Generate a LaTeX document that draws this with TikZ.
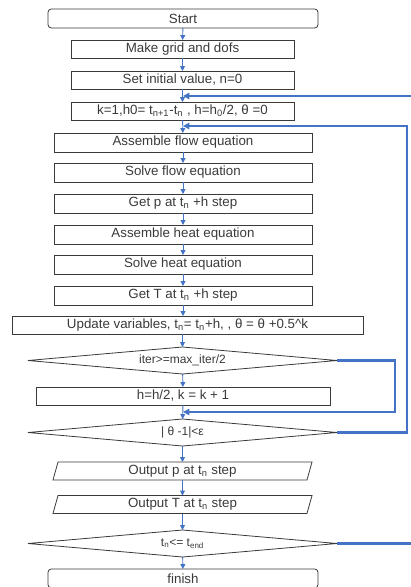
\documentclass[tikz,border=0pt]{standalone}
\usepackage{fontspec}
\setmainfont{Liberation Sans}
\usetikzlibrary{shapes.geometric,arrows.meta}
\definecolor{flowblue}{HTML}{4472C4}
\definecolor{edgegray}{HTML}{3A3A3A}
\begin{document}
\begin{tikzpicture}[x=0.75pt, y=-0.75pt,
  font=\fontsize{10}{12}\selectfont, text=edgegray,
  every node/.style={inner sep=0pt, outer sep=0pt},
  procbox/.style={draw=edgegray, line width=0.6pt, minimum height=13.5pt},
  termbox/.style={procbox, rounded corners=2.5pt, minimum width=202.5pt, minimum height=14.25pt},
  decision/.style={draw=edgegray, line width=0.6pt, shape=diamond, aspect=11.44,
    minimum width=231.75pt, minimum height=20.25pt, font=\fontsize{9}{11}\selectfont},
  iobox/.style={minimum width=190.5pt, minimum height=13.5pt},
  conn/.style={draw=flowblue, line width=0.7pt, -{Triangle[length=3.6pt,width=3.6pt]}},
  backloop/.style={draw=flowblue, line width=1.6pt, -{Triangle[length=4.8pt,width=4.8pt]}}]
\useasboundingbox (0,0) rectangle (411,587);

% main column of steps
\node[termbox] (start) at (183,18.5) {Start};
\node[procbox, minimum width=167.25pt] (grid) at (182.5,49) {Make grid and dofs};
\node[procbox, minimum width=167.25pt] (init) at (182.5,80) {Set initial value, n=0};
\node[procbox, minimum width=167.25pt] (kinit) at (182.5,111)
  {k=1,h0= t\textsubscript{n+1}-t\textsubscript{n} , h=h\textsubscript{0}/2, θ =0};
\node[procbox, minimum width=193.5pt, minimum height=14.25pt] (asmf) at (183,142.5) {Assemble flow equation};
\node[procbox, minimum width=193.5pt, minimum height=14.25pt] (solf) at (183,172.5) {Solve flow equation};
\node[procbox, minimum width=193.5pt, minimum height=14.25pt] (getp) at (183,203.5) {Get p at t\textsubscript{n} +h step};
\node[procbox, minimum width=193.5pt, minimum height=14.25pt] (asmh) at (183,234.5) {Assemble heat equation};
\node[procbox, minimum width=193.5pt, minimum height=14.25pt] (solh) at (183,264.5) {Solve heat equation};
\node[procbox, minimum width=193.5pt, minimum height=14.25pt] (getT) at (183,295.5) {Get T at t\textsubscript{n} +h step};
\node[procbox, minimum width=263.25pt] (upd) at (187.5,325)
  {Update variables, t\textsubscript{n}= t\textsubscript{n}+h, , θ = θ +0.5\textasciicircum k};
\node[decision] (iterchk) at (182.5,360.5) {iter>=max\_iter/2};
\node[procbox, minimum width=220.5pt] (half) at (183,396) {h=h/2, k = k + 1};
\node[decision] (thchk) at (182.5,432.5) {| θ -1|<ε};
\node[iobox] (outp) at (182.5,471) {Output p at t\textsubscript{n} step};
\node[iobox] (outT) at (182.5,504.5) {Output T at t\textsubscript{n} step};
\node[decision] (endchk) at (182.5,543.5) {t\textsubscript{n}<= t\textsubscript{end}};
\node[termbox] (fin) at (183,578.5) {finish};

% output steps drawn as parallelograms
\foreach \n in {outp,outT}{
  \draw[draw=edgegray, line width=0.6pt]
    ([xshift=1.9pt]\n.north west) -- ([xshift=1.9pt]\n.north east)
    -- ([xshift=-1.9pt]\n.south east) -- ([xshift=-1.9pt]\n.south west) -- cycle;
}

% forward connectors
\draw[conn] (start) -- (grid);
\draw[conn] (grid) -- (init);
\draw[conn] (init) -- (kinit);
\draw[conn] (kinit) -- (asmf);
\draw[conn] (asmf) -- (solf);
\draw[conn] (solf) -- (getp);
\draw[conn] (getp) -- (asmh);
\draw[conn] (asmh) -- (solh);
\draw[conn] (solh) -- (getT);
\draw[conn] (getT.south) -- (getT.south |- upd.north);
\draw[conn] (upd.south -| iterchk.north) -- (iterchk.north);
\draw[conn] (iterchk) -- (half);
\draw[conn] (half) -- (thchk);
\draw[conn] (thchk) -- (outp);
\draw[conn] (outp) -- (outT);
\draw[conn] (outT) -- (endchk);
\draw[conn] (endchk) -- (fin);

% feedback loops
\coordinate (outerR) at (418,96);
\coordinate (outerIn) at (183,96);
\coordinate (midR) at (407,126);
\coordinate (midIn) at (183,126);
\coordinate (innerR) at (395,412);
\coordinate (innerIn) at (183,412);
\draw[backloop] (endchk.east) -| (outerR) -- (outerIn);
\draw[backloop] (thchk.east) -| (midR) -- (midIn);
\draw[backloop] (iterchk.east) -| (innerR) -- (innerIn);
\end{tikzpicture}
\end{document}
